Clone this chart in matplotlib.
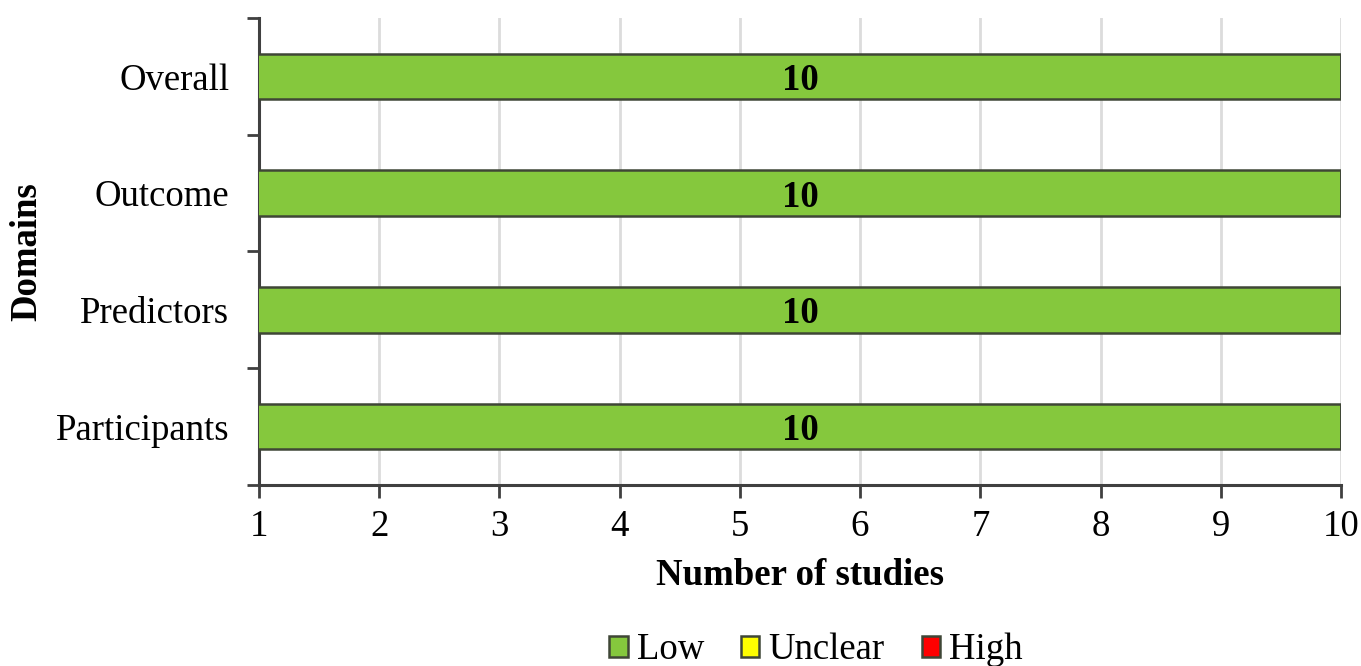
import matplotlib
matplotlib.use("Agg")
import matplotlib.pyplot as plt
import numpy as np

# data, top row first
domains = ["Overall", "Outcome", "Predictors", "Participants"]
low = [10, 10, 10, 10]
unclear = [0, 0, 0, 0]
high = [0, 0, 0, 0]
x_ticks = [1, 2, 3, 4, 5, 6, 7, 8, 9, 10]

GREEN, YELLOW, RED = "#85c83d", "#ffff00", "#ff0000"
EDGE = "#3f4636"
FS = 26.5

plt.rcParams["font.family"] = ["Liberation Serif", "DejaVu Serif"]

fig = plt.figure(figsize=(13.61, 6.66), dpi=100)
ax = fig.add_axes([0.1903, 0.2718, 0.7950, 0.7012])

y = np.arange(len(domains))
h = 0.39
b_low = ax.barh(y, low, height=h, color=GREEN, edgecolor=EDGE, lw=1.8, label="Low", zorder=3)
left = np.array(low)
b_unc = ax.barh(y, unclear, left=left, height=h, color=YELLOW, edgecolor=EDGE, lw=1.8,
                label="Unclear", zorder=3)
left = left + np.array(unclear)
b_high = ax.barh(y, high, left=left, height=h, color=RED, edgecolor=EDGE, lw=1.8,
                 label="High", zorder=3)

ax.set_xlim(x_ticks[0], x_ticks[-1])
ax.set_ylim(len(domains) - 0.5, -0.5)

# value labels centred on the visible part of each bar
x0 = ax.get_xlim()[0]
for yi, v in zip(y, low):
    ax.text((x0 + v) / 2, yi, str(v), ha="center", va="center_baseline", fontsize=FS,
            fontweight="bold", zorder=4)

ax.set_xticks(x_ticks)
ax.tick_params(axis="x", labelsize=FS, length=9, width=2, color="#404040", pad=9)
ax.set_yticks(y)
ax.set_yticklabels(domains)
ax.set_yticks(np.arange(-0.5, len(domains)), minor=True)
ax.tick_params(axis="y", which="major", length=0, labelsize=FS, pad=21.5)
ax.tick_params(axis="y", which="minor", length=9, width=2, color="#404040")

for s in ("top", "right"):
    ax.spines[s].set_visible(False)
for s in ("left", "bottom"):
    ax.spines[s].set_color("#404040")
    ax.spines[s].set_linewidth(2.2)

ax.grid(axis="x", color="#dcdcdc", lw=2, zorder=0)
ax.set_axisbelow(True)

ax.set_xlabel("Number of studies", fontsize=FS, fontweight="bold", labelpad=10)
ax.set_ylabel("Domains", fontsize=FS, fontweight="bold")
ax.yaxis.set_label_coords(-0.198, 0.5)

fig.legend(handles=[b_low, b_unc, b_high], loc="center",
           bbox_to_anchor=(816 / 1361, 1 - 650 / 666), ncol=3, frameon=False,
           fontsize=FS, handlelength=0.5, handleheight=0.5, handletextpad=0.25,
           columnspacing=1.0)

fig.savefig("out.png", dpi=100)
